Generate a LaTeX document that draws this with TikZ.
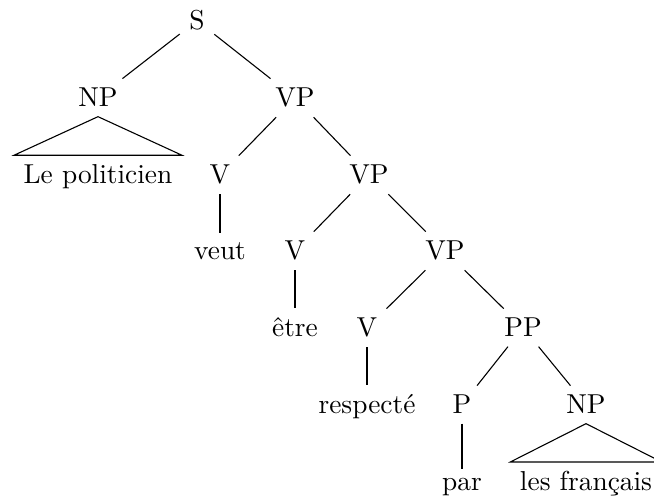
\documentclass[tikz,border=0pt]{standalone}
\begin{document}
\begin{tikzpicture}[x=0.365pt,y=-0.365pt,
  lab/.style={anchor=base,font=\fontsize{10pt}{12pt}\selectfont}]
\useasboundingbox (0,0) rectangle (654,501);
% level baselines: 30, 107, 184, 260, 337, 414, 491
\node[lab] (S)   at (197,30)  {S};
\node[lab] (NPa) at (98,107)  {NP};
\node[lab] (VPa) at (295,107) {VP};
\node[lab] (LP)  at (98,184)  {Le politicien};
\node[lab] (Va)  at (220,184) {V};
\node[lab] (VPb) at (369,184) {VP};
\node[lab] (veut) at (220,260) {veut};
\node[lab] (Vb)  at (295,260) {V};
\node[lab] (VPc) at (445,260) {VP};
\node[lab] (etre) at (295,337) {être};
\node[lab] (Vc)  at (367,337) {V};
\node[lab] (PP)  at (523,337) {PP};
\node[lab] (resp) at (367,414) {respecté};
\node[lab] (P)   at (462,414) {P};
\node[lab] (NPb) at (586,414) {NP};
\node[lab] (par) at (462,491) {par};
\node[lab] (LF)  at (586,491) {les français};
\draw (S) -- (NPa);
\draw (S) -- (VPa);
\draw (NPa.south) -- (LP.north west) -- (LP.north east) -- cycle;
\draw (VPa) -- (Va);
\draw (VPa) -- (VPb);
\draw (Va) -- (veut);
\draw (VPb) -- (Vb);
\draw (VPb) -- (VPc);
\draw (Vb) -- (etre);
\draw (VPc) -- (Vc);
\draw (VPc) -- (PP);
\draw (Vc) -- (resp);
\draw (PP) -- (P);
\draw (PP) -- (NPb);
\draw (P) -- (par);
\draw (NPb.south) -- (LF.north west) -- (LF.north east) -- cycle;
\end{tikzpicture}
\end{document}
